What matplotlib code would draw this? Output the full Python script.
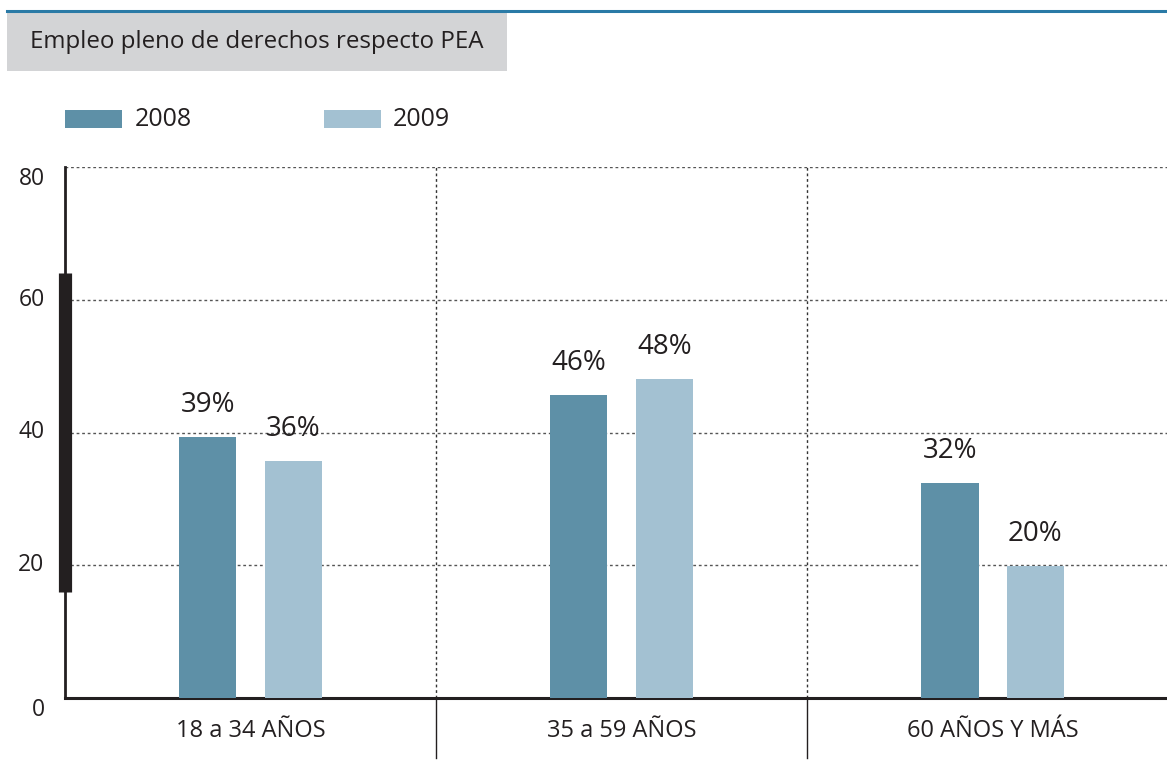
import matplotlib.pyplot as plt
from matplotlib.patches import Rectangle
from matplotlib.lines import Line2D
import numpy as np

plt.rcParams['font.family'] = ['Open Sans', 'DejaVu Sans']

# ── Data ──
groups = ['18 a 34 AÑOS', '35 a 59 AÑOS', '60 AÑOS Y MÁS']
years = ['2008', '2009']
vals_2008 = [39.3, 45.7, 32.4]
vals_2009 = [35.7, 48.1, 19.9]
yticks = [0, 20, 40, 60, 80]
title = 'Empleo pleno de derechos respecto PEA'

c2008 = '#5e90a7'
c2009 = '#a3c1d2'
txt = '#231f20'

W, H = 1167, 772
fig = plt.figure(figsize=(W / 100, H / 100), dpi=100)
ax = fig.add_axes([65 / W, (H - 698) / H, (W - 65) / W, (698 - 167) / H])

x = np.arange(len(groups))
bw = 0.154
off = 0.115
ax.bar(x - off, vals_2008, bw, color=c2008, zorder=3)
ax.bar(x + off, vals_2009, bw, color=c2009, zorder=3)

for xi, v in zip(x - off, vals_2008):
    ax.text(xi, v + 2.7, f'{round(v)}%', ha='center', va='bottom', fontsize=20, color=txt)
for xi, v in zip(x + off, vals_2009):
    ax.text(xi, v + 2.7, f'{round(v)}%', ha='center', va='bottom', fontsize=20, color=txt)

ax.set_xlim(-0.5, 2.47)
ax.set_ylim(0, 80)

# gridlines
for yv in yticks[1:]:
    ax.axhline(yv, color='#555555', lw=1, ls=(0, (2, 2)), zorder=1)
for b in [0.5, 1.5]:
    ax.plot([b, b], [0, 80], color='#333333', lw=1, ls=(0, (2, 2)), zorder=1)
    ax.plot([b, b], [0, -9], color=txt, lw=1, clip_on=False)

# axes
for s in ['top', 'right']:
    ax.spines[s].set_visible(False)
ax.spines['left'].set_linewidth(2)
ax.spines['left'].set_color(txt)
ax.spines['bottom'].set_linewidth(2.2)
ax.spines['bottom'].set_color(txt)
ax.plot([-0.5, -0.5], [16, 64], color=txt, lw=9.5, solid_capstyle='butt',
        clip_on=False, zorder=5)

ax.set_xticks([])
ax.set_yticks([])
for yv in yticks:
    va = 'top' if yv in (0, 80) else 'center'
    ax.text(-0.555, yv, str(yv), ha='right', va=va, fontsize=16.5, color=txt,
            transform=ax.transData)
for xi, g in zip(x, groups):
    ax.text(xi, -5, g, ha='center', va='center', fontsize=17, color=txt)

# header
fig.add_artist(Rectangle((7 / W, 1 - 71 / H), 500 / W, 59 / H,
                         transform=fig.transFigure, color='#d3d4d6', lw=0))
fig.add_artist(Line2D([7 / W, 1], [1 - 11 / H, 1 - 11 / H], transform=fig.transFigure,
                      color='#2a7aa6', lw=2.2))
fig.text(30 / W, 1 - 42 / H, title, ha='left', va='center', fontsize=17.4, color=txt)

# legend
for lx, tx, col, yr in [(65, 135, c2008, years[0]), (324, 393, c2009, years[1])]:
    fig.add_artist(Rectangle((lx / W, 1 - 128 / H), 57 / W, 18 / H,
                             transform=fig.transFigure, color=col, lw=0))
    fig.text(tx / W, 1 - 120 / H, yr, ha='left', va='center', fontsize=18, color=txt)

fig.savefig('out.png', dpi=100)
